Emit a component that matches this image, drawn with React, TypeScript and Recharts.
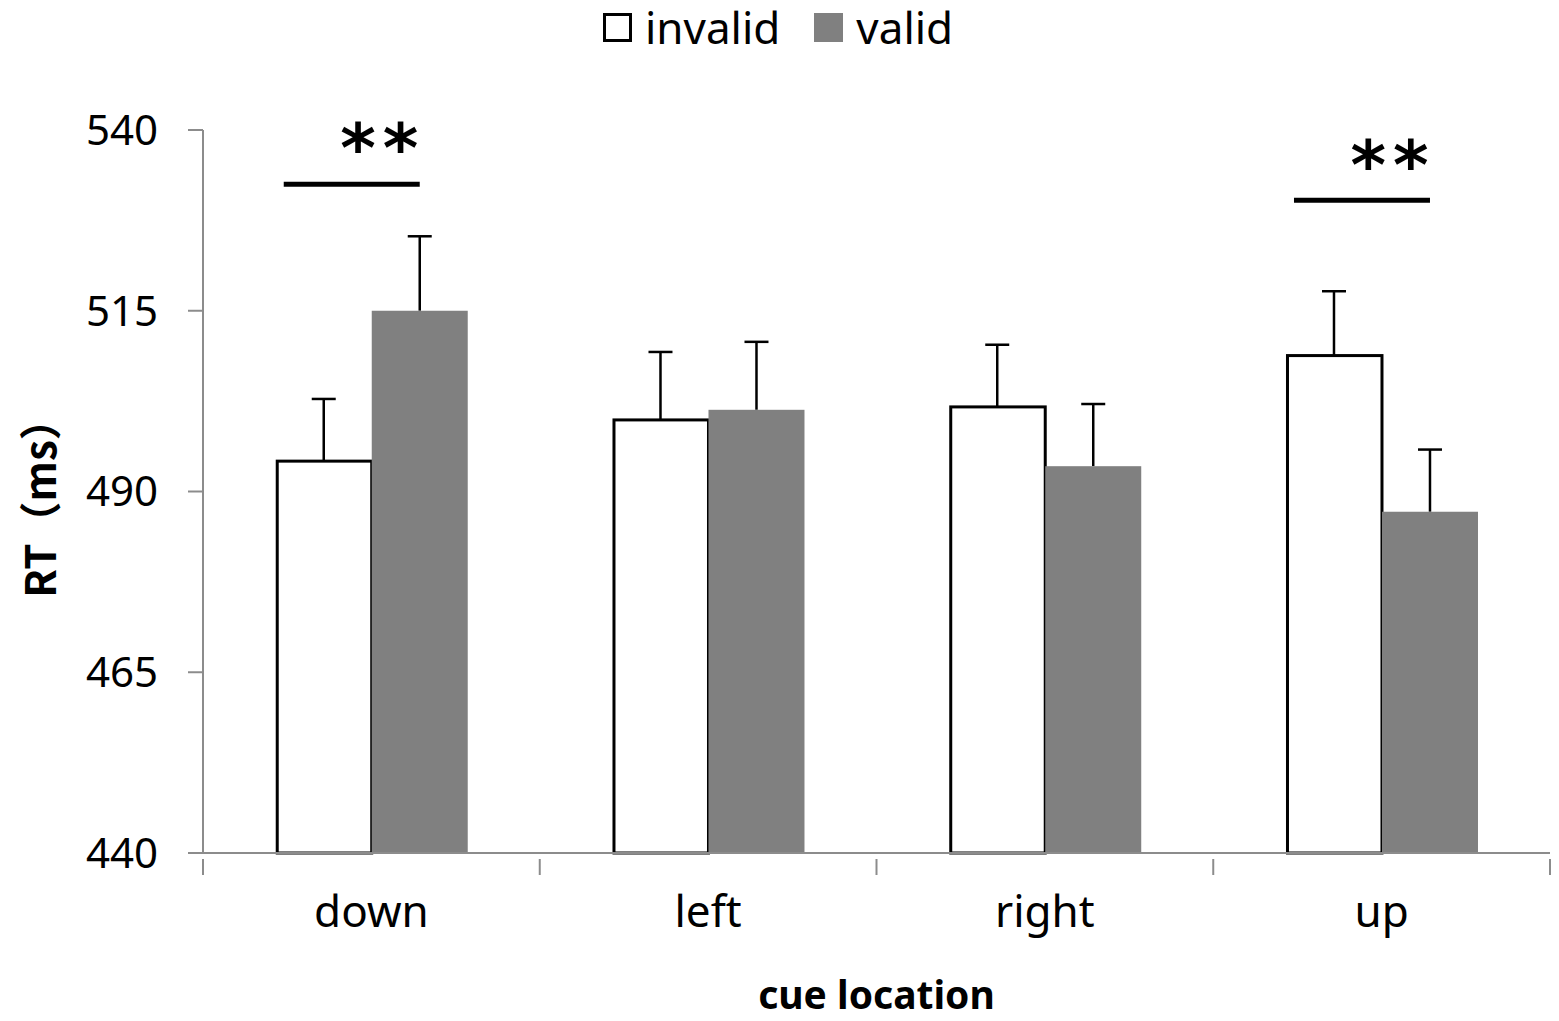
import React from 'react';
import { BarChart, Bar, XAxis, YAxis } from 'recharts';

const categories = ['down', 'left', 'right', 'up'];
const invalidRT = [494.2, 499.9, 501.7, 508.8];
const validRT = [515.0, 501.3, 493.5, 487.2];
const invalidErr = [8.6, 9.4, 8.6, 8.9];
const validErr = [10.3, 9.4, 8.6, 8.6];
const yTicks = [440, 465, 490, 515, 540];

// significance brackets ("**") drawn above the valid bar of these categories
const sigCategories = ['down', 'up'];
const sigLineRT = [532.5, 530.3];
const sigStarRT = [539.3, 537.0];

const Y_MIN = yTicks[0];
const Y_MAX = yTicks[yTicks.length - 1];
const FONT = '"Noto Sans", "Noto Sans CJK SC", sans-serif';

const data = categories.map((name, i) => {
  const s = sigCategories.indexOf(name);
  return {
    name,
    invalid: invalidRT[i],
    valid: validRT[i],
    invalidErr: invalidErr[i],
    validErr: validErr[i],
    sigLine: s >= 0 ? sigLineRT[s] : null,
    sigStar: s >= 0 ? sigStarRT[s] : null,
  };
});

function makeShape(errKey: string, outlined: boolean, withSig: boolean) {
  return (props: any) => {
    const { x, y, width, height, payload, fill, background } = props;
    const ppu = background.height / (Y_MAX - Y_MIN);
    const toY = (v: number) => background.y + (Y_MAX - v) * ppu;
    const cx = x + width / 2;
    const ey = y - payload[errKey] * ppu;
    return (
      <g>
        <line x1={cx} x2={cx} y1={y} y2={ey} stroke="#000" strokeWidth={2.5} />
        <line x1={cx - 12} x2={cx + 12} y1={ey} y2={ey} stroke="#000" strokeWidth={2.5} />
        {outlined ? (
          <rect x={x + 1.5} y={y} width={width - 1.5} height={height} fill={fill} stroke="#000" strokeWidth={3} />
        ) : (
          <rect x={x} y={y} width={width} height={height} fill={fill} />
        )}
        {withSig && payload.sigLine != null && (
          <g>
            <line x1={x - 88} x2={x + 48} y1={toY(payload.sigLine)} y2={toY(payload.sigLine)} stroke="#000" strokeWidth={5} />
            <text
              x={x + 11}
              y={toY(payload.sigStar) + 37}
              textAnchor="middle"
              fontFamily='"DejaVu Sans", sans-serif'
              fontWeight="bold"
              fontSize={68}
              letterSpacing={7}
              fill="#000"
            >
              **
            </text>
          </g>
        )}
      </g>
    );
  };
}

const BoundaryTick = (props: any) => {
  const { x, y, payload, index, visibleTicksCount, width } = props;
  const band = width / visibleTicksCount;
  return (
    <g>
      <line x1={x - band / 2} x2={x - band / 2} y1={y - 30} y2={y - 14} stroke="#8c8c8c" strokeWidth={2} />
      {index === visibleTicksCount - 1 && (
        <line x1={x + band / 2} x2={x + band / 2} y1={y - 30} y2={y - 14} stroke="#8c8c8c" strokeWidth={2} />
      )}
      <text x={x} y={y} dy={38} textAnchor="middle" fontFamily={FONT} fontSize={44} fill="#000">
        {payload.value}
      </text>
    </g>
  );
};

const YLabel = () => (
  <text
    x={29}
    y={490}
    transform="rotate(-90 29 490)"
    textAnchor="middle"
    dominantBaseline="central"
    fontFamily='"Noto Sans CJK SC", "Noto Sans", sans-serif'
    fontWeight="bold"
    fontSize={42}
    fill="#000"
  >
    RT（ms）
  </text>
);

const XLabel = (props: any) => {
  const { viewBox } = props;
  return (
    <text
      x={viewBox.x + viewBox.width / 2}
      y={985}
      textAnchor="middle"
      dominantBaseline="central"
      fontFamily={FONT}
      fontWeight="bold"
      fontSize={39}
      fill="#000"
    >
      cue location
    </text>
  );
};

function LegendBox() {
  const item = (label: string, swatch: React.CSSProperties, gap: number) => (
    <div style={{ display: 'flex', alignItems: 'center', marginRight: gap }}>
      <div style={{ width: 29, height: 29, boxSizing: 'border-box', marginRight: 13, ...swatch }} />
      <span style={{ fontFamily: FONT, fontSize: 44, lineHeight: '52px', color: '#000' }}>{label}</span>
    </div>
  );
  return (
    <div style={{ position: 'absolute', left: 595, top: -7, height: 52, display: 'flex', alignItems: 'center' }}>
      {item('invalid', { border: '3px solid #000', background: '#fff' }, 34)}
      {item('valid', { background: '#808080' }, 0)}
    </div>
  );
}

export default function App() {
  return (
    <div style={{ position: 'relative', width: 1551, height: 1013, background: '#fff' }}>
      <LegendBox />
      <BarChart
        width={1551}
        height={1013}
        data={data}
        margin={{ top: 122, right: 9, bottom: 8, left: 0 }}
        barCategoryGap="21.6%"
        barGap={0}
      >
        <XAxis
          dataKey="name"
          height={160}
          axisLine={{ stroke: '#8c8c8c', strokeWidth: 2 }}
          tickLine={false}
          tick={<BoundaryTick />}
          tickMargin={30}
          interval={0}
          label={<XLabel />}
        />
        <YAxis
          width={195}
          domain={[Y_MIN, Y_MAX]}
          ticks={yTicks}
          interval={0}
          axisLine={{ stroke: '#8c8c8c', strokeWidth: 2 }}
          tickLine={{ stroke: '#8c8c8c', strokeWidth: 2 }}
          tickSize={15}
          tickMargin={30}
          tick={{ fontFamily: FONT, fontSize: 42, fill: '#000' }}
          label={<YLabel />}
        />
        <Bar dataKey="invalid" fill="#ffffff" isAnimationActive={false} shape={makeShape('invalidErr', true, false)} />
        <Bar dataKey="valid" fill="#808080" isAnimationActive={false} shape={makeShape('validErr', false, true)} />
      </BarChart>
    </div>
  );
}
